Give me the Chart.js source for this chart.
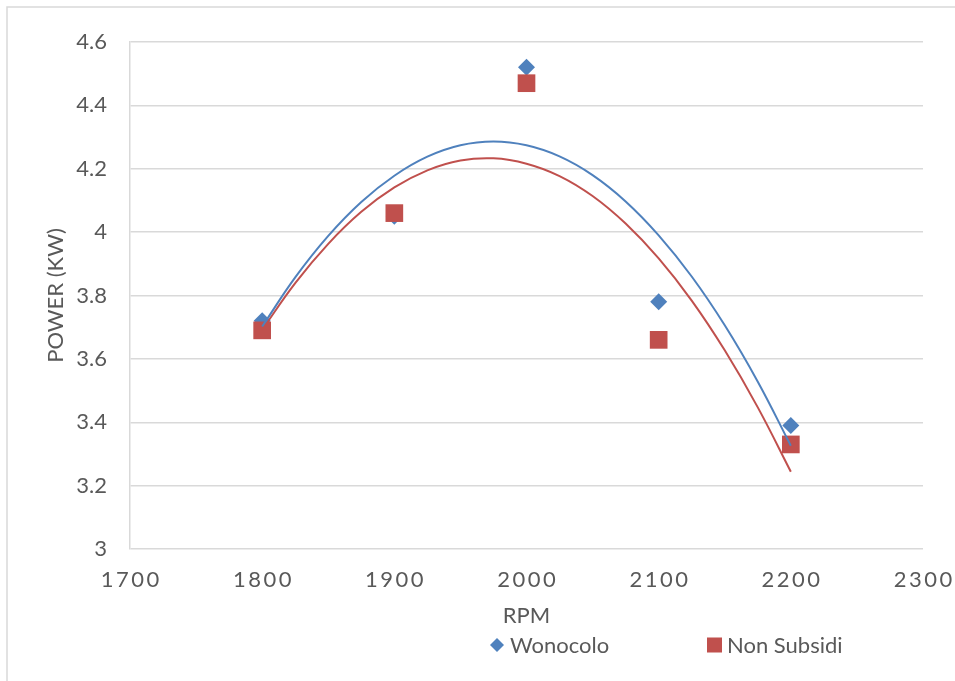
<!DOCTYPE html>
<html>
<head>
<meta charset="utf-8">
<script src="https://cdn.jsdelivr.net/npm/chart.js@4"></script>
<style>
  html,body{margin:0;padding:0;background:#fff;}
  #wrap{position:relative;width:955px;height:681px;}
</style>
</head>
<body>
<div id="wrap"><canvas id="c" width="955" height="681"></canvas></div>
<script>
// ---- data ----
const rpm = [1800, 1900, 2000, 2100, 2200];
const wonocolo = [3.72, 4.05, 4.52, 3.78, 3.39];
const nonSubsidi = [3.69, 4.06, 4.47, 3.66, 3.33];

// polynomial trendlines
const trendRpm = [1800, 1825, 1850, 1875, 1900, 1925, 1950, 1975, 2000, 2025, 2050, 2075, 2100, 2125, 2150, 2175, 2200];
const trendWonocolo = [3.702, 3.857, 3.988, 4.095, 4.178, 4.238, 4.274, 4.286, 4.274, 4.239, 4.180, 4.097, 3.990, 3.860, 3.706, 3.528, 3.326];
const trendNonSubsidi = [3.692, 3.839, 3.963, 4.064, 4.141, 4.195, 4.226, 4.233, 4.216, 4.177, 4.114, 4.027, 3.917, 3.784, 3.627, 3.447, 3.244];

const xTicks = [1700, 1800, 1900, 2000, 2100, 2200, 2300];
const yTicks = [3, 3.2, 3.4, 3.6, 3.8, 4, 4.2, 4.4, 4.6];
const seriesNames = ['Wonocolo', 'Non Subsidi'];
const xTitle = 'RPM';
const yTitle = 'POWER (KW)';

const BLUE = '#4f81bd', RED = '#c0504d', TXT = '#595959', GRID = '#d9d9d9';
const FONT = 'Lato';

const pts = (xs, ys) => xs.map((x, i) => ({x, y: ys[i]}));

const framePlugin = {
  id: 'frame',
  beforeDraw(chart) {
    const ctx = chart.ctx;
    ctx.save();
    ctx.fillStyle = '#fff';
    ctx.fillRect(0, 0, chart.width, chart.height);
    ctx.strokeStyle = GRID;
    ctx.lineWidth = 1.5;
    ctx.strokeRect(7, 7, chart.width + 20, chart.height + 20);
    ctx.restore();
  },
  afterDraw(chart) {
    const ctx = chart.ctx;
    const xs = chart.scales.x;
    const area = chart.chartArea;
    ctx.save();
    // x tick labels with letter spacing
    ctx.font = '22px ' + FONT;
    ctx.fillStyle = TXT;
    ctx.textAlign = 'center';
    ctx.textBaseline = 'middle';
    ctx.letterSpacing = '2.5px';
    xTicks.forEach(v => {
      ctx.fillText(String(v), xs.getPixelForValue(v) + 1.25, 580);
    });
    ctx.letterSpacing = '0px';
    // axis titles
    ctx.fillText(xTitle, (area.left + area.right) / 2, 616);
    ctx.save();
    ctx.translate(56, (area.top + area.bottom) / 2);
    ctx.rotate(-Math.PI / 2);
    ctx.fillText(yTitle, 0, 0);
    ctx.restore();
    // legend
    ctx.textAlign = 'left';
    const ly = 645;
    ctx.fillStyle = BLUE;
    ctx.beginPath();
    ctx.moveTo(497, ly - 7); ctx.lineTo(504, ly); ctx.lineTo(497, ly + 7); ctx.lineTo(490, ly);
    ctx.closePath(); ctx.fill();
    ctx.fillStyle = TXT;
    ctx.fillText(seriesNames[0], 510, ly + 1);
    ctx.fillStyle = RED;
    ctx.fillRect(707, ly - 7.5, 15, 15);
    ctx.fillStyle = TXT;
    ctx.fillText(seriesNames[1], 727, ly + 1);
    ctx.restore();
  }
};

new Chart(document.getElementById('c'), {
  type: 'scatter',
  data: {
    datasets: [
      {
        label: seriesNames[0],
        data: pts(rpm, wonocolo),
        pointStyle: 'rectRot',
        pointRadius: 8.5,
        pointHoverRadius: 8.5,
        backgroundColor: BLUE,
        borderColor: BLUE,
        borderWidth: 0,
        order: 4
      },
      {
        label: seriesNames[1],
        data: pts(rpm, nonSubsidi),
        pointStyle: 'rect',
        pointRadius: 12.5,
        pointHoverRadius: 12.5,
        backgroundColor: RED,
        borderColor: RED,
        borderWidth: 0,
        order: 3
      },
      {
        label: 'Poly. (Non Subsidi)',
        type: 'line',
        data: pts(trendRpm, trendNonSubsidi),
        borderColor: RED,
        borderWidth: 2,
        pointRadius: 0,
        tension: 0.4,
        fill: false,
        order: 2
      },
      {
        label: 'Poly. (Wonocolo)',
        type: 'line',
        data: pts(trendRpm, trendWonocolo),
        borderColor: BLUE,
        borderWidth: 2,
        pointRadius: 0,
        tension: 0.4,
        fill: false,
        order: 1
      }
    ]
  },
  options: {
    responsive: false,
    animation: false,
    devicePixelRatio: 1,
    layout: {padding: {left: 0, top: 42, right: 32, bottom: 0}},
    plugins: {
      legend: {display: false},
      tooltip: {enabled: false},
      title: {display: false}
    },
    scales: {
      x: {
        type: 'linear',
        min: 1700, max: 2300,
        afterBuildTicks(scale) { scale.ticks = xTicks.map(v => ({value: v})); },
        afterFit(scale) {
          scale.height = 681 - 549;
          scale.paddingLeft = 0;
          scale.paddingRight = 0;
        },
        grid: {display: false, drawTicks: false},
        border: {display: false},
        ticks: {
          color: 'rgba(0,0,0,0)',
          font: {family: FONT, size: 22},
          padding: 19,
          maxRotation: 0
        },
        title: {display: false}
      },
      y: {
        type: 'linear',
        min: 3, max: 4.6,
        afterBuildTicks(scale) { scale.ticks = yTicks.map(v => ({value: v})); },
        afterFit(scale) {
          scale.width = 130;
          scale.paddingTop = 0;
          scale.paddingBottom = 0;
        },
        grid: {color: GRID, lineWidth: 1.5, drawTicks: false},
        border: {display: true, color: GRID, width: 1.5},
        ticks: {
          color: TXT,
          font: {family: FONT, size: 22},
          padding: 23,
          callback: v => String(v)
        },
        title: {display: false}
      }
    }
  },
  plugins: [framePlugin]
});
</script>
</body>
</html>
